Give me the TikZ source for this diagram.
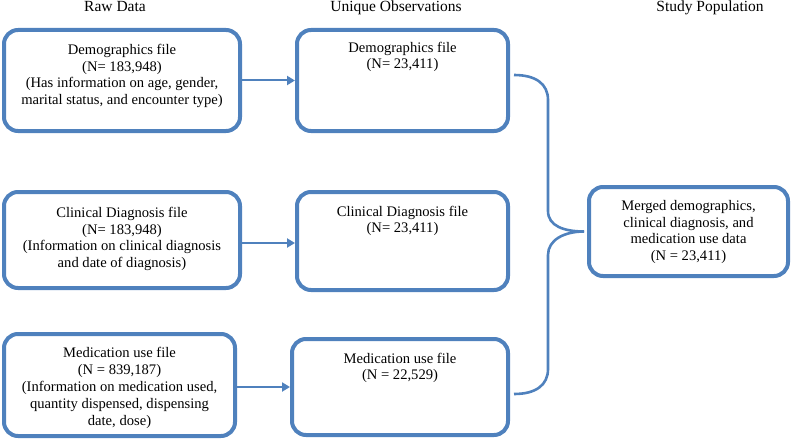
\documentclass[tikz,border=0pt]{standalone}
\usepackage{fontspec}
\setmainfont{Liberation Serif}
\usetikzlibrary{arrows.meta,calc}
\definecolor{boxblue}{RGB}{79,129,189}
\begin{document}
\begin{tikzpicture}[x=1pt,y=-1pt,
  every node/.style={font=\fontsize{14.6}{16.8}\selectfont, text=black},
  box/.style={draw=boxblue, line width=4pt, rounded corners=14pt, inner sep=0pt},
  lbl/.style={inner sep=0pt, align=center},
  hdr/.style={inner sep=0pt, anchor=base, font=\fontsize{15.5}{17.5}\selectfont},
  arr/.style={draw=boxblue, line width=2pt, -{Triangle[length=8pt,width=9pt]}},
  brace/.style={draw=boxblue, line width=2.6pt}]
\useasboundingbox (0,0) rectangle (791,441);

% headers
\node[hdr] (h1) at (115,12) {Raw Data};
\node[hdr] (h2) at (396,12) {Unique Observations};
\node[hdr] (h3) at (710,12) {Study Population};

% boxes
\node[box, minimum width=236pt, minimum height=101pt] (raw1) at (122,80.5) {};
\node[box, minimum width=211pt, minimum height=101pt] (uniq1) at (402.5,80.5) {};
\node[box, minimum width=236pt, minimum height=96pt] (raw2) at (122,240) {};
\node[box, minimum width=211pt, minimum height=98pt] (uniq2) at (402.5,241) {};
\node[box, minimum width=231pt, minimum height=102pt] (raw3) at (119.5,385) {};
\node[box, minimum width=216pt, minimum height=96pt] (uniq3) at (400,387) {};
\node[box, minimum width=199pt, minimum height=89pt] (study) at (688.5,231.5) {};

% texts
\node[lbl] (t1) at (122,76) {Demographics file\\(N= 183,948)\\(Has information on age, gender,\\marital status, and encounter type)};
\node[lbl] (t2) at (402.5,57) {Demographics file\\(N= 23,411)};
\node[lbl] (t3) at (122,239) {Clinical Diagnosis file\\(N= 183,948)\\(Information on clinical diagnosis\\and date of diagnosis)};
\node[lbl] (t4) at (402.5,221) {Clinical Diagnosis file\\(N= 23,411)};
\node[lbl] (t5) at (119.5,388) {Medication use file\\(N = 839,187)\\(Information on medication used,\\quantity dispensed, dispensing\\date, dose)};
\node[lbl] (t6) at (400,368) {Medication use file\\(N = 22,529)};
\node[lbl] (t7) at (688.5,232) {Merged demographics,\\clinical diagnosis, and\\medication use data\\(N = 23,411)};

% arrows
\draw[arr] (raw1.east) -- (raw1.east -| uniq1.west);
\coordinate (a2) at ($(raw2.east)+(0,3)$);
\draw[arr] (a2) -- (a2 -| uniq2.west);
\coordinate (a3) at ($(raw3.east)+(0,2)$);
\draw[arr] (a3) -- (a3 -| uniq3.west);

% brace
\coordinate (s1) at ($(uniq1.east)+(4,-5.5)$);
\coordinate (s3) at ($(uniq3.east)+(4,7)$);
\coordinate (tip) at ($(study.west)+(-3,0)$);
\draw[brace] (s1) .. controls +(22,0) and +(0,-16) .. (548,100)
  -- (548,211) .. controls +(0,15) and +(-20,0) .. (tip);
\draw[brace] (tip) .. controls +(-20,0) and +(0,-15) .. (548,255)
  -- (548,369) .. controls +(0,16) and +(22,0) .. (s3);
\end{tikzpicture}
\end{document}
